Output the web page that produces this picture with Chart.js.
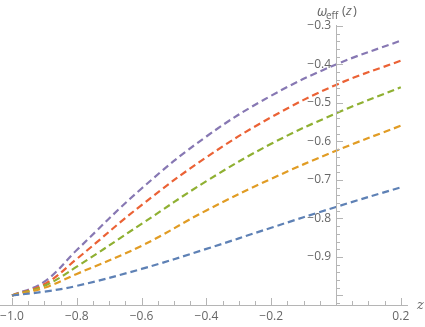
<!DOCTYPE html>
<html>
<head>
<meta charset="utf-8">
<script src="https://cdn.jsdelivr.net/npm/chart.js@4"></script>
<style>
  html, body { margin: 0; padding: 0; background: #fff; }
  #wrap { width: 425px; height: 327px; position: relative; }
</style>
</head>
<body>
<div id="wrap"><canvas id="weffChart"></canvas></div>
<script>
// values
const zValues = [-1.0, -0.9, -0.8, -0.6, -0.4, -0.2, 0.0, 0.2];
const blueVals = [-1.0, -0.99, -0.975, -0.931, -0.879, -0.824, -0.77, -0.719];
const orangeVals = [-1.0, -0.98, -0.944, -0.871, -0.779, -0.697, -0.624, -0.559];
const greenVals = [-1.0, -0.975, -0.925, -0.814, -0.703, -0.606, -0.527, -0.459];
const redVals = [-1.0, -0.971, -0.905, -0.765, -0.641, -0.537, -0.453, -0.39];
const purpleVals = [-1.0, -0.964, -0.882, -0.722, -0.587, -0.481, -0.4, -0.338];

const xTicks = [-1.0, -0.8, -0.6, -0.4, -0.2, 0.2];
const yTicks = [-0.3, -0.4, -0.5, -0.6, -0.7, -0.8, -0.9];

const colors = ["#5e81b5", "#e19c24", "#8fb032", "#eb6235", "#8778b3"];
const seriesList = [blueVals, orangeVals, greenVals, redVals, purpleVals];

function toPoints(vals) {
  return zValues.map((z, i) => ({ x: z, y: vals[i] }));
}

function fmt(v) {
  return (v < 0 ? "\u2212" : "") + Math.abs(v).toFixed(1);
}

// Mathematica-like axes: y axis crosses at z = 0, ticks point inward
const axesPlugin = {
  id: "axesPlugin",
  afterDatasetsDraw(chart) {
    const c = chart.ctx;
    const xs = chart.scales.x;
    const ys = chart.scales.y;
    const area = chart.chartArea;
    const x0 = xs.getPixelForValue(0);
    const yb = area.bottom;

    c.save();
    c.strokeStyle = "#b5b5b5";
    c.lineWidth = 1;

    // x axis
    c.beginPath();
    c.moveTo(area.left, yb + 0.5);
    c.lineTo(area.right, yb + 0.5);
    // y axis
    c.moveTo(Math.round(x0) + 0.5, area.top);
    c.lineTo(Math.round(x0) + 0.5, yb);
    c.stroke();

    // x ticks (major 0.2, minor 0.05)
    c.beginPath();
    for (let i = -20; i <= 4; i++) {
      const v = i * 0.05;
      const px = Math.round(xs.getPixelForValue(v)) + 0.5;
      const len = i % 4 === 0 ? 7 : 4;
      c.moveTo(px, yb);
      c.lineTo(px, yb - len);
    }
    // y ticks (major 0.1, minor 0.02)
    for (let i = 15; i <= 51; i++) {
      const v = -i * 0.02;
      if (v < ys.min) break;
      const py = Math.round(ys.getPixelForValue(v)) + 0.5;
      const len = i % 5 === 0 ? 7 : 4;
      c.moveTo(x0, py);
      c.lineTo(x0 + len, py);
    }
    c.stroke();

    c.fillStyle = "#666";
    c.font = "12px 'Open Sans', sans-serif";
    c.textAlign = "center";
    c.textBaseline = "middle";
    xTicks.forEach((v) => {
      c.fillText(fmt(v), xs.getPixelForValue(v), yb + 12);
    });
    c.textAlign = "right";
    yTicks.forEach((v) => {
      c.fillText(fmt(v), x0 - 5, ys.getPixelForValue(v));
    });

    // axis labels
    c.textAlign = "left";
    c.font = "italic 13px 'DejaVu Serif', serif";
    c.fillText("z", area.right + 9, yb + 1);

    c.font = "italic 14px 'Open Sans', sans-serif";
    c.fillText("\u03c9", 317, 12);
    c.font = "10px 'Open Sans', sans-serif";
    c.fillText("eff", 326, 16);
    c.font = "13px 'Open Sans', sans-serif";
    c.fillText("(", 342, 11);
    c.font = "italic 13px 'Open Sans', sans-serif";
    c.fillText("z", 346, 11);
    c.font = "13px 'Open Sans', sans-serif";
    c.fillText(")", 353, 11);
    c.restore();
  },
};

const ctx = document.getElementById("weffChart").getContext("2d");

const myChart = new Chart(ctx, {
  type: "line",
  data: {
    datasets: seriesList.map((vals, i) => ({
      data: toPoints(vals),
      borderColor: colors[i],
      borderWidth: 2.2,
      borderDash: [7, 4],
      pointRadius: 0,
      fill: false,
      tension: 0.4,
    })),
  },
  options: {
    responsive: true,
    maintainAspectRatio: false,
    animation: false,
    layout: {
      padding: { left: 0, right: 17, top: 25, bottom: 22 },
    },
    scales: {
      x: {
        type: "linear",
        display: false,
        min: -1.037,
        max: 0.2222,
      },
      y: {
        type: "linear",
        display: false,
        min: -1.0247,
        max: -0.2974,
      },
    },
    plugins: {
      legend: { display: false },
      tooltip: { enabled: false },
    },
  },
  plugins: [axesPlugin],
});
</script>
</body>
</html>
